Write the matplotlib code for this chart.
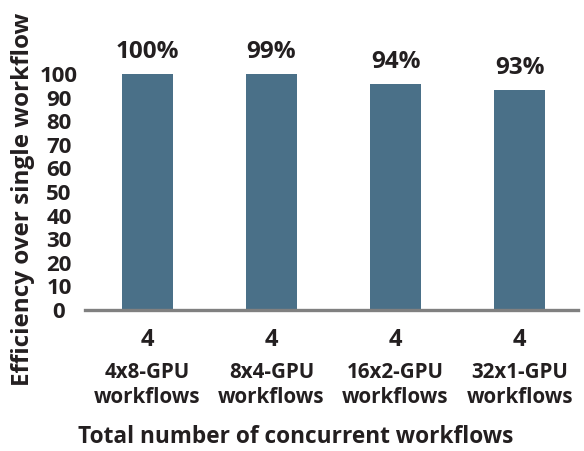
import matplotlib
matplotlib.use("Agg")
import matplotlib.pyplot as plt

# values
counts = ["4", "4", "4", "4"]
configs = ["4x8-GPU", "8x4-GPU", "16x2-GPU", "32x1-GPU"]
heights = [100, 100, 95.8, 93.2]
labels = ["100%", "99%", "94%", "93%"]
yticks = [0, 10, 20, 30, 40, 50, 60, 70, 80, 90, 100]

plt.rcParams['font.family'] = ['Open Sans', 'DejaVu Sans']
plt.rcParams['font.weight'] = 'bold'

fig = plt.figure(figsize=(5.84, 4.51), dpi=100)
ax = fig.add_axes([0.1455, 0.3126, 0.844, 0.5233])

x = list(range(len(heights)))
ax.bar(x, heights, width=0.41, color='#4a7088')
ax.set_xlim(-0.504, 3.47)
ax.set_ylim(0, 100)

for xi, h, lab in zip(x, heights, labels):
    ax.annotate(lab, (xi, h), xytext=(0, 11.5), textcoords='offset points',
                ha='center', va='baseline', fontsize=17.5, fontweight='bold',
                color='#231f20', annotation_clip=False)

ax.set_xticks([])
for xi, c, cfg in zip(x, counts, configs):
    ax.annotate(c, (xi, 0), xycoords=('data', 'axes fraction'),
                xytext=(0, -21.5), textcoords='offset points',
                ha='center', va='center', fontsize=17, fontweight='bold',
                color='#231f20', annotation_clip=False)
    ax.annotate(cfg + "\nworkflows", (xi, 0), xycoords=('data', 'axes fraction'),
                xytext=(0, -54), textcoords='offset points',
                ha='center', va='center', fontsize=14.8, fontweight='bold',
                color='#231f20', linespacing=1.3, annotation_clip=False)

ax.set_yticks(yticks)
ax.set_yticklabels([str(v) for v in yticks], fontsize=16, fontweight='bold',
                   color='#231f20', ha='center', va='center_baseline')
ax.tick_params(axis='y', length=0, pad=18.7)

for s in ['top', 'right', 'left']:
    ax.spines[s].set_visible(False)
ax.spines['bottom'].set_color('#808080')
ax.spines['bottom'].set_linewidth(2.4)

fig.text(0.039, 0.557, "Efficiency over single workflow", rotation=90,
         ha='center', va='center', fontsize=17.5, fontweight='bold', color='#231f20')
fig.text(0.506, 0.031, "Total number of concurrent workflows",
         ha='center', va='center', fontsize=16.3, fontweight='bold', color='#231f20')

fig.savefig("out.png", dpi=100)
